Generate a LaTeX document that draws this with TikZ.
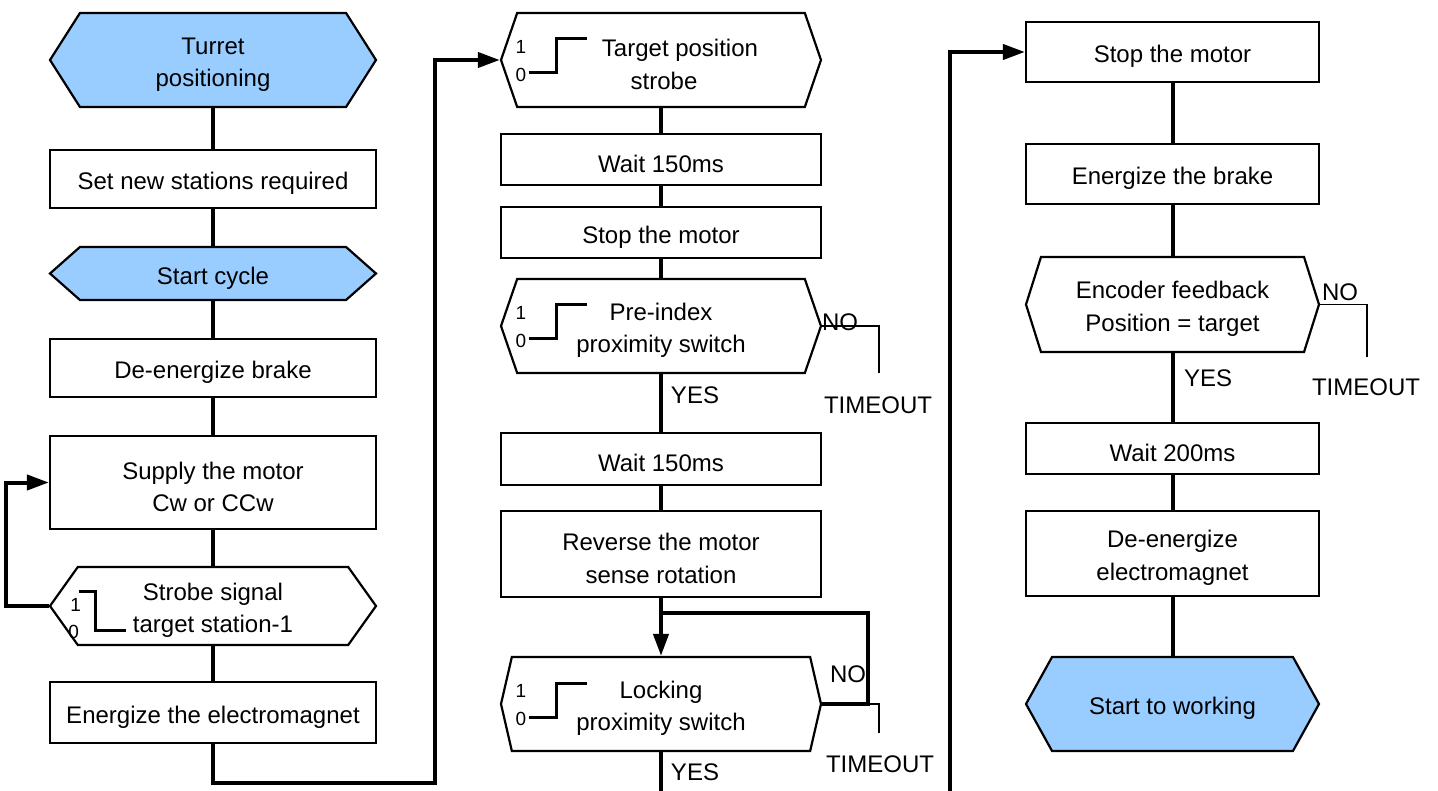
\documentclass[tikz,border=0pt]{standalone}
\usepackage{fontspec}
\setmainfont{Liberation Sans}
\usetikzlibrary{arrows.meta}
\usetikzlibrary{shapes.symbols,positioning}

\definecolor{startblue}{RGB}{153,204,255}
\newcommand{\boxstrut}{\rule{0pt}{26pt}}

\begin{document}
\begin{tikzpicture}[x=1pt,y=-1pt,
        font=\fontsize{24}{32.5}\selectfont,
        box/.style={draw, line width=2.2pt, minimum width=326pt, align=center, inner sep=0pt,
            execute at begin node={\boxstrut}},
        hexa/.style={box, shape=signal, signal to=east and west, signal pointer angle=#1},
        flow/.style={line width=4pt},
        thinline/.style={line width=1.6pt},
        stepline/.style={line width=3pt},
        digit/.style={font=\fontsize{19}{22}\selectfont, inner sep=0pt},
        >={Triangle[length=22pt,width=15pt]}]
        \useasboundingbox (0,0) rectangle (1438,791);

        % first column
        \node[hexa=115, fill=startblue, minimum height=94pt] (turret) at (213,60) {\boxstrut Turret\\positioning};
        \node[box, minimum height=58pt] (newst) at (213,179) {Set new stations required};
        \node[hexa=83, fill=startblue, minimum height=53pt] (cycle) at (213,273.5) {Start cycle};
        \node[box, minimum height=58pt] (debrake) at (213,368) {De-energize brake};
        \node[box, minimum height=93pt] (supply) at (213,482.5) {\boxstrut Supply the motor\\Cw or CCw};
        \node[hexa=109, minimum height=78pt] (strobe) at (213,606) {\boxstrut Strobe signal\\target station-1};
        \node[box, minimum height=61pt] (energ) at (213,712.5) {Energize the electromagnet};

        \draw[flow] (turret.south) -- (newst.north);
        \draw[flow] (newst.south) -- (cycle.north);
        \draw[flow] (cycle.south) -- (debrake.north);
        \draw[flow] (debrake.south) -- (supply.north);
        \draw[flow] (supply.south) -- (strobe.north);
        \draw[flow] (strobe.south) -- (energ.north);
        \draw[flow,->] (strobe.west) -- ++(-43,0) |- (supply.west);

        \draw[stepline] ([shift={(30,-15)}]strobe.west) -- ++(17,0) -- ++(0,39) -- ++(30,0);
        \node[digit] (s1) at ([shift={(27,-1)}]strobe.west) {1};
        \node[digit] (s0) at ([shift={(25,26)}]strobe.west) {0};

        % second column
        \node[hexa=142, minimum width=320pt, minimum height=94pt] (tgt) at (661,60) {\boxstrut\hspace*{38pt}Target position\\\hspace*{6pt}strobe};
        \node[box, minimum width=320pt, minimum height=51pt] (wait1) at (661,159.5) {Wait 150ms};
        \node[box, minimum width=320pt, minimum height=51pt] (stop1) at (661,232.5) {Stop the motor};
        \node[hexa=142, minimum width=320pt, minimum height=94pt] (preidx) at (661,326) {\boxstrut Pre-index\\proximity switch};
        \node[box, minimum width=320pt, minimum height=52pt] (wait2) at (661,459) {Wait 150ms};
        \node[box, minimum width=320pt, minimum height=86pt] (reverse) at (661,554) {\boxstrut Reverse the motor\\sense rotation};
        \node[hexa=154, minimum width=320pt, minimum height=94pt] (lock) at (661,704) {\boxstrut Locking\\proximity switch};

        \coordinate (back) at (435,783);
        \draw[flow,->] (energ.south) |- (back) |- (tgt.west);

        \draw[flow] (tgt.south) -- (wait1.north);
        \draw[flow] (wait1.south) -- (stop1.north);
        \draw[flow] (stop1.south) -- (preidx.north);
        \draw[flow] (preidx.south) -- (wait2.north);
        \draw[flow] (wait2.south) -- (reverse.north);
        \draw[flow,->] (reverse.south) -- (lock.north);

        \coordinate (join) at (661,613);
        \coordinate (joinr) at (868,613);
        \draw[flow] (join) -- (joinr) |- (lock.east);
        \coordinate (lockend) at (661,791);
        \draw[flow] (lock.south) -- (lockend);

        \coordinate (preto) at (879,373);
        \draw[thinline] (preidx.east) -| (preto);
        \coordinate (lockto) at (879,733);
        \draw[thinline] (joinr |- lock.east) -| (lockto);

        \node (preno) at (840,322) {NO};
        \node (preyes) at (695,395) {YES};
        \node (pretime) at (878,405) {TIMEOUT};
        \node (lockno) at (848,674) {NO};
        \node (lockyes) at (695,772) {YES};
        \node (locktime) at (880,764) {TIMEOUT};

        \foreach \n in {tgt,preidx,lock}{
            \draw[stepline] ([shift={(29,13)}]\n.west) -- ++(28,0) -- ++(0,-34) -- ++(30,0);
            \node[digit] at ([shift={(21,-13)}]\n.west) {1};
            \node[digit] at ([shift={(21,15)}]\n.west) {0};
        }

        % third column
        \node[box, minimum width=293pt, minimum height=60pt] (stop2) at (1172.5,52) {Stop the motor};
        \node[box, minimum width=293pt, minimum height=60pt] (brake) at (1172.5,174) {Energize the brake};
        \node[hexa=145, minimum width=293pt, minimum height=95pt] (enc) at (1172.5,304.5) {\boxstrut Encoder feedback\\Position = target};
        \node[box, minimum width=293pt, minimum height=51pt] (wait3) at (1172.5,448.5) {Wait 200ms};
        \node[box, minimum width=293pt, minimum height=85pt] (demag) at (1172.5,553.5) {\boxstrut De-energize\\electromagnet};
        \node[hexa=122, fill=startblue, minimum width=293pt, minimum height=94pt] (work) at (1172.5,704) {Start to working};

        \coordinate (rise) at (950,791);
        \draw[flow,->] (rise) |- (stop2.west);
        \draw[flow] (stop2.south) -- (brake.north);
        \draw[flow] (brake.south) -- (enc.north);
        \draw[flow] (enc.south) -- (wait3.north);
        \draw[flow] (wait3.south) -- (demag.north);
        \draw[flow] (demag.south) -- (work.north);

        \coordinate (encto) at (1367,357);
        \draw[thinline] (enc.east) -| (encto);
        \node (encno) at (1340,292) {NO};
        \node (encyes) at (1208,378) {YES};
        \node (enctime) at (1366,387) {TIMEOUT};
\end{tikzpicture}
\end{document}
